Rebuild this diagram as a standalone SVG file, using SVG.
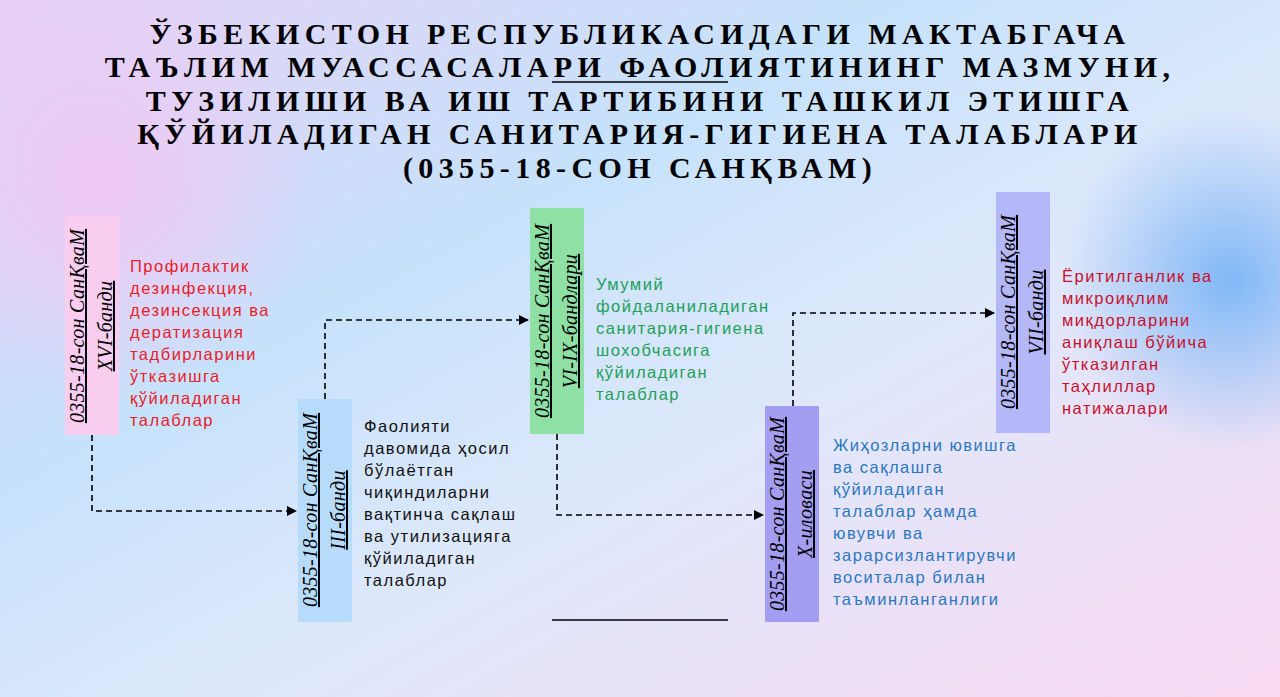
<svg xmlns="http://www.w3.org/2000/svg" width="1280" height="697" viewBox="0 0 1280 697">
<defs>
<linearGradient id="bg" x1="0" y1="0" x2="1" y2="1">
<stop offset="0" stop-color="#e6d2f6"/><stop offset="0.35" stop-color="#c6e2fb"/><stop offset="0.6" stop-color="#dfe8fb"/><stop offset="1" stop-color="#f8d8f1"/>
</linearGradient>
<radialGradient id="rb" cx="1230" cy="280" r="170" gradientUnits="userSpaceOnUse"><stop offset="0" stop-color="#80b8f6"/><stop offset="1" stop-color="#80b8f6" stop-opacity="0"/></radialGradient>
<radialGradient id="rp" cx="100" cy="180" r="220" gradientUnits="userSpaceOnUse"><stop offset="0" stop-color="#f0c8f4"/><stop offset="1" stop-color="#f0c8f4" stop-opacity="0"/></radialGradient>
<marker id="ar" markerWidth="10" markerHeight="10" refX="9" refY="5" orient="auto" markerUnits="userSpaceOnUse"><path d="M0,0 L10,5 L0,10 z" fill="#000"/></marker>
<style>
.t{font-family:"Liberation Serif",serif;font-weight:bold;font-size:30px;letter-spacing:5.4px;fill:#000;text-anchor:middle}
.v{font-family:"Liberation Serif",serif;font-style:italic;font-size:20px;letter-spacing:0.3px;text-decoration:underline;fill:#000;text-anchor:middle}
.d{font-family:"Liberation Sans",Arial,sans-serif;font-size:16.5px;letter-spacing:1.5px}
.c{fill:none;stroke:#000;stroke-width:1.6;stroke-dasharray:6,4;marker-end:url(#ar)}
</style>
</defs>
<rect width="1280" height="697" fill="url(#bg)"/>
<rect width="1280" height="697" fill="url(#rp)"/>
<rect width="1280" height="697" fill="url(#rb)"/>
<g id="title">
<text class="t" x="640" y="44">ЎЗБЕКИСТОН РЕСПУБЛИКАСИДАГИ МАКТАБГАЧА</text>
<text class="t" x="640" y="77">ТАЪЛИМ МУАССАСАЛАРИ ФАОЛИЯТИНИНГ МАЗМУНИ,</text>
<text class="t" x="640" y="111">ТУЗИЛИШИ ВА ИШ ТАРТИБИНИ ТАШКИЛ ЭТИШГА</text>
<text class="t" x="640" y="144">ҚЎЙИЛАДИГАН САНИТАРИЯ-ГИГИЕНА ТАЛАБЛАРИ</text>
<text class="t" x="640" y="178">(0355-18-СОН САНҚВАМ)</text>
<line x1="552" y1="82" x2="728" y2="82" stroke="#000" stroke-width="1.5"/>
</g>
<g id="connectors">
<path class="c" d="M92,435 V511 H296"/>
<path class="c" d="M325,399 V320 H528"/>
<path class="c" d="M557,434 V515 H763"/>
<path class="c" d="M793,406 V313 H994"/>
</g>
<g id="n1">
<rect x="65" y="216" width="54" height="219" fill="#f9cdf0"/>
<text class="v" transform="translate(84,326) rotate(-90)">0355-18-сон  СанҚваМ</text>
<text class="v" transform="translate(112,326) rotate(-90)">XVI-бандu</text>
<g class="d" fill="#e8202a">
<text x="130" y="272">Профилактик</text><text x="130" y="294">дезинфекция,</text><text x="130" y="316">дезинсекция ва</text><text x="130" y="338">дератизация</text><text x="130" y="360">тадбирларини</text><text x="130" y="382">ўтказишга</text><text x="130" y="404">қўйиладиган</text><text x="130" y="426">талаблар</text>
</g>
</g>
<g id="n2">
<rect x="298" y="399" width="54" height="223" fill="#b7dcfb"/>
<text class="v" transform="translate(317,510) rotate(-90)">0355-18-сон  СанҚваМ</text>
<text class="v" transform="translate(345,510) rotate(-90)">III-бандu</text>
<g class="d" fill="#111">
<text x="364" y="432">Фаолияти</text><text x="364" y="454">давомида ҳосил</text><text x="364" y="476">бўлаётган</text><text x="364" y="498">чиқиндиларни</text><text x="364" y="520">вақтинча сақлаш</text><text x="364" y="542">ва утилизацияга</text><text x="364" y="564">қўйиладиган</text><text x="364" y="586">талаблар</text>
</g>
</g>
<g id="n3">
<rect x="530" y="208" width="54" height="226" fill="#8ee0a5"/>
<text class="v" transform="translate(549,321) rotate(-90)">0355-18-сон  СанҚваМ</text>
<text class="v" transform="translate(577,321) rotate(-90)">VI-IX-бандлари</text>
<g class="d" fill="#22a05a">
<text x="596" y="290">Умумий</text><text x="596" y="312">фойдаланиладиган</text><text x="596" y="334">санитария-гигиена</text><text x="596" y="356">шохобчасига</text><text x="596" y="378">қўйиладиган</text><text x="596" y="400">талаблар</text>
</g>
</g>
<g id="n4">
<rect x="765" y="406" width="54" height="216" fill="#a49ef2"/>
<text class="v" transform="translate(784,514) rotate(-90)">0355-18-сон  СанҚваМ</text>
<text class="v" transform="translate(812,514) rotate(-90)">X-иловаси</text>
<g class="d" fill="#2a78c0">
<text x="833" y="451">Жиҳозларни ювишга</text><text x="833" y="473">ва сақлашга</text><text x="833" y="495">қўйиладиган</text><text x="833" y="517">талаблар ҳамда</text><text x="833" y="539">ювувчи ва</text><text x="833" y="561">зарарсизлантирувчи</text><text x="833" y="583">воситалар билан</text><text x="833" y="605">таъминланганлиги</text>
</g>
</g>
<g id="n5">
<rect x="996" y="192" width="54" height="241" fill="#b5b8f8"/>
<text class="v" transform="translate(1015,312) rotate(-90)">0355-18-сон  СанҚваМ</text>
<text class="v" transform="translate(1043,312) rotate(-90)">VII-бандu</text>
<g class="d" fill="#c8102e">
<text x="1062" y="282">Ёритилганлик ва</text><text x="1062" y="304">микроиқлим</text><text x="1062" y="326">миқдорларини</text><text x="1062" y="348">аниқлаш бўйича</text><text x="1062" y="370">ўтказилган</text><text x="1062" y="392">таҳлиллар</text><text x="1062" y="414">натижалари</text>
</g>
</g>
<line x1="552" y1="620" x2="728" y2="620" stroke="#000" stroke-width="1.5"/>
</svg>
